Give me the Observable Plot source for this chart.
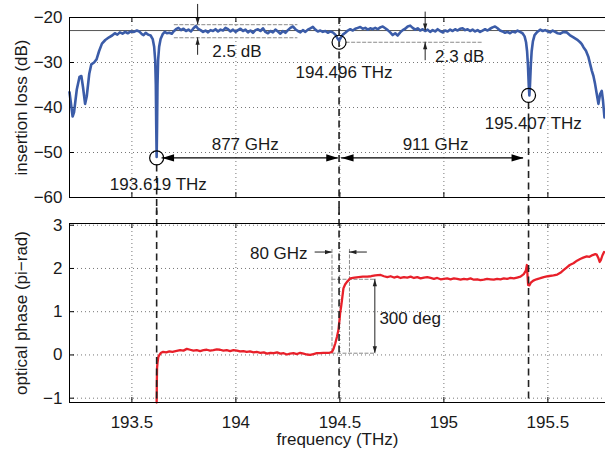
<!DOCTYPE html>
<html><head><meta charset="utf-8">
<script src="https://cdn.jsdelivr.net/npm/d3@7"></script>
<script src="https://cdn.jsdelivr.net/npm/@observablehq/plot@0.6"></script>
<style>
html,body{margin:0;padding:0;background:#fff;overflow:hidden}
svg{display:block}
</style></head><body><div id="chart"></div><script>
// ---------- data ----------
const xDomain = [193.2, 195.777];
const xTicks = [193.5, 194, 194.5, 195, 195.5];
const ilTicks = [-60, -50, -40, -30, -20];
const phTicks = [-1, 0, 1, 2, 3];

const ilFreq = [193.200,193.208,193.215,193.222,193.235,193.248,193.257,193.265,193.275,193.283,193.295,193.305,193.318,193.330,193.342,193.356,193.372,193.390,193.405,193.418,193.430,193.442,193.455,193.468,193.480,193.495,193.510,193.524,193.535,193.548,193.556,193.566,193.578,193.590,193.600,193.607,193.612,193.615,193.617,193.619,193.621,193.623,193.626,193.631,193.638,193.648,193.658,193.668,193.680,193.692,193.700,193.712,193.724,193.736,193.748,193.760,193.772,193.784,193.796,193.808,193.818,193.830,193.842,193.854,193.866,193.878,193.890,193.902,193.914,193.926,193.938,193.950,193.962,193.974,193.986,193.998,194.010,194.022,194.034,194.046,194.058,194.070,194.082,194.094,194.106,194.118,194.130,194.142,194.154,194.166,194.178,194.190,194.202,194.214,194.226,194.238,194.250,194.262,194.274,194.286,194.298,194.310,194.322,194.334,194.346,194.358,194.370,194.382,194.394,194.406,194.418,194.430,194.442,194.454,194.466,194.478,194.488,194.496,194.504,194.514,194.526,194.538,194.550,194.562,194.574,194.586,194.598,194.610,194.622,194.634,194.646,194.658,194.670,194.682,194.694,194.706,194.718,194.730,194.742,194.754,194.766,194.778,194.790,194.802,194.814,194.826,194.838,194.850,194.862,194.874,194.886,194.898,194.910,194.922,194.934,194.946,194.958,194.970,194.982,194.994,195.006,195.018,195.030,195.042,195.054,195.066,195.078,195.090,195.102,195.114,195.126,195.138,195.150,195.162,195.174,195.186,195.198,195.210,195.222,195.234,195.246,195.258,195.270,195.282,195.294,195.306,195.318,195.330,195.342,195.354,195.366,195.378,195.388,195.395,195.400,195.404,195.408,195.411,195.414,195.418,195.422,195.428,195.436,195.447,195.463,195.475,195.487,195.499,195.511,195.523,195.535,195.547,195.560,195.575,195.590,195.605,195.623,195.640,195.655,195.663,195.671,195.683,195.695,195.703,195.711,195.719,195.727,195.735,195.743,195.751,195.759,195.765,195.772];
const ilLoss = [-36.6,-39.5,-42.0,-41.0,-36.0,-33.2,-33.0,-35.5,-39.2,-37.5,-32.5,-30.4,-30.0,-29.3,-27.5,-25.8,-25.0,-24.4,-24.0,-23.5,-23.8,-23.3,-23.6,-23.2,-23.5,-23.1,-23.2,-22.9,-23.1,-23.7,-23.9,-23.4,-23.8,-24.0,-24.8,-26.5,-29.5,-35.0,-44.0,-51.0,-44.0,-35.0,-29.5,-26.5,-24.8,-23.7,-23.2,-23.5,-23.4,-23.6,-23.1,-22.6,-22.3,-22.8,-22.5,-23.0,-22.7,-23.1,-22.4,-21.9,-22.5,-22.8,-23.2,-22.9,-23.3,-22.8,-23.0,-22.6,-23.1,-22.7,-22.9,-22.3,-22.6,-23.1,-22.7,-23.2,-22.8,-22.5,-23.0,-22.7,-23.3,-22.9,-23.4,-22.8,-22.6,-23.0,-22.4,-23.2,-23.5,-23.0,-23.3,-22.7,-23.1,-23.6,-23.0,-23.4,-22.8,-22.3,-22.0,-22.6,-23.0,-23.3,-22.8,-23.2,-22.7,-22.4,-22.1,-22.7,-23.1,-22.9,-23.2,-23.0,-23.4,-23.1,-23.3,-23.8,-24.6,-25.1,-24.5,-23.8,-23.4,-22.9,-22.6,-22.9,-22.5,-22.3,-22.1,-22.5,-22.3,-22.7,-22.4,-22.6,-22.3,-22.6,-22.2,-22.0,-22.4,-22.8,-23.3,-23.9,-23.5,-24.0,-23.3,-22.8,-22.5,-22.0,-21.8,-22.3,-22.7,-22.4,-22.9,-22.6,-23.0,-22.7,-23.2,-22.8,-23.1,-22.6,-23.0,-23.3,-22.9,-23.1,-22.7,-23.0,-22.6,-22.9,-22.5,-22.4,-22.8,-22.6,-23.0,-22.7,-23.1,-22.8,-23.2,-22.9,-22.6,-22.9,-22.5,-22.2,-22.0,-22.4,-22.9,-23.1,-23.4,-23.2,-23.5,-23.1,-23.3,-22.9,-23.2,-23.5,-24.2,-25.5,-27.5,-30.5,-35.0,-37.3,-35.0,-30.5,-27.5,-25.3,-23.9,-23.3,-22.7,-23.0,-22.8,-23.1,-23.3,-22.9,-23.2,-23.5,-23.6,-23.2,-23.3,-23.9,-24.4,-24.9,-25.5,-25.9,-26.6,-27.4,-28.8,-30.3,-31.8,-33.0,-34.8,-37.0,-39.2,-37.0,-36.3,-38.5,-42.2];

const phFreq = [193.619,193.620,193.621,193.623,193.627,193.632,193.640,193.650,193.665,193.680,193.695,193.710,193.732,193.748,193.764,193.780,193.796,193.812,193.828,193.844,193.860,193.876,193.892,193.908,193.924,193.940,193.956,193.972,193.988,194.005,194.020,194.036,194.052,194.068,194.085,194.100,194.118,194.134,194.150,194.166,194.182,194.198,194.214,194.230,194.245,194.260,194.277,194.293,194.309,194.325,194.341,194.357,194.373,194.389,194.405,194.420,194.435,194.450,194.462,194.470,194.478,194.486,194.493,194.498,194.501,194.506,194.510,194.517,194.525,194.534,194.550,194.570,194.590,194.610,194.632,194.650,194.670,194.696,194.712,194.728,194.744,194.760,194.776,194.792,194.808,194.824,194.840,194.856,194.872,194.888,194.904,194.920,194.936,194.952,194.968,194.984,195.000,195.016,195.032,195.048,195.064,195.080,195.096,195.112,195.128,195.144,195.160,195.176,195.192,195.208,195.224,195.240,195.256,195.272,195.288,195.304,195.320,195.336,195.352,195.368,195.384,195.394,195.399,195.402,195.405,195.411,195.418,195.430,195.445,195.460,195.480,195.500,195.527,195.545,195.560,195.575,195.590,195.605,195.623,195.640,195.655,195.670,195.687,195.700,195.715,195.728,195.735,195.742,195.749,195.755,195.762,195.770];
const phVal = [-1.10,-0.60,-0.30,-0.19,-0.05,0.00,0.05,0.07,0.06,0.08,0.07,0.09,0.11,0.10,0.14,0.12,0.10,0.11,0.09,0.11,0.12,0.10,0.11,0.13,0.12,0.10,0.11,0.09,0.11,0.10,0.08,0.09,0.07,0.08,0.06,0.07,0.05,0.06,0.03,0.05,0.04,0.06,0.03,0.04,0.01,0.03,0.04,0.02,0.05,0.03,0.01,0.00,0.02,0.04,0.04,0.05,0.05,0.05,0.07,0.15,0.27,0.42,0.58,0.80,0.96,1.12,1.27,1.54,1.63,1.69,1.77,1.79,1.80,1.81,1.81,1.82,1.84,1.85,1.82,1.80,1.82,1.79,1.81,1.78,1.80,1.79,1.81,1.78,1.80,1.77,1.79,1.80,1.78,1.76,1.78,1.75,1.76,1.77,1.75,1.77,1.76,1.74,1.76,1.75,1.77,1.74,1.75,1.73,1.74,1.76,1.75,1.74,1.76,1.75,1.77,1.76,1.78,1.77,1.79,1.81,1.87,1.95,2.08,1.85,1.62,1.61,1.67,1.72,1.75,1.77,1.80,1.82,1.84,1.86,1.90,1.96,2.02,2.08,2.12,2.18,2.22,2.25,2.28,2.27,2.31,2.33,2.32,2.25,2.15,2.20,2.30,2.38];

// annotations (data units)
const refLevel = -22.9;
const rippleBox = {x1: 193.704, x2: 194.298, levels: [-21.6, -24.5]};
const ripple2 = {x1: 194.53, x2: 195.19, level: -25.5};
const markers = [
  {f: 193.619, loss: -51.2, top: -52.8, label: "193.619 THz", lx: 193.627, ly: -57.2},
  {f: 194.496, loss: -25.5, top: -20,   label: "194.496 THz", lx: 194.52,  ly: -32.2},
  {f: 195.407, loss: -37.3, top: -38.9, label: "195.407 THz", lx: 195.43,  ly: -43.6}
];
const spans = [
  {x1: 193.645, x2: 194.492, y: -51.2, label: "877 GHz", lx: 194.045, ly: -48.2},
  {x1: 194.508, x2: 195.383, y: -51.2, label: "911 GHz", lx: 194.96,  ly: -48.2}
];
const dbArrows = [
  {x: 193.816, y1: -17.1, y2: -21.6},
  {x: 193.816, y1: -28.4, y2: -24.5},
  {x: 194.91,  y1: -18.8, y2: -22.9},
  {x: 194.91,  y1: -29.6, y2: -25.5}
];
const dbLabels = [
  {x: 194.005, y: -27.6, text: "2.5 dB"},
  {x: 195.076, y: -28.7, text: "2.3 dB"}
];
// bottom panel annotations
const ghzLines = [194.462, 194.546];
const ghzTop = 2.44, stepLow = 0.04, stepHigh = 1.75, stepEnd = 194.675;
const ghzArrows = [
  {x1: 194.381, x2: 194.462, y: 2.38},
  {x1: 194.632, x2: 194.546, y: 2.38}
];
const degArrow = {x: 194.668, y1: 0.04, y2: 1.75};
const ghzLabel = {x: 194.206, y: 2.35, text: "80 GHz"};
const degLabel = {x: 194.69, y: 0.85, text: "300 deg"};

// ---------- helpers ----------
const ilData = ilFreq.map((f, i) => ({f, v: ilLoss[i]}));
const phData = phFreq.map((f, i) => ({f, v: phVal[i]}));
const head = {draw(ctx, size) { const r = Math.sqrt(size / Math.PI); ctx.moveTo(0, 0); ctx.lineTo(-2 * r, -0.6 * r); ctx.lineTo(-2 * r, 0.6 * r); ctx.closePath(); }};
const fmt = d => d < 0 ? "\u2212" + Math.abs(d) : String(d);
const font = {fontFamily: "'Liberation Sans', Arial, Helvetica, sans-serif", fontSize: "17px", color: "#1a1a1a", background: "white", overflow: "visible"};
const gridStyle = {stroke: "#777", strokeOpacity: 1, strokeDasharray: "1,3", strokeWidth: 1};
const dashStyle = {stroke: "#222", strokeWidth: 1.6, strokeDasharray: "7,4.5"};
const grayDash = {stroke: "#8a8a8a", strokeWidth: 1, strokeDasharray: "4,1.5"};
const blue = "#3b5ca8", red = "#e8202a";

// ---------- top panel ----------
const topH = 211, topMT = 17, topMB = 14;
const topInner = topH - topMT - topMB;
const topPlot = Plot.plot({
  width: 605, height: topH, marginLeft: 69, marginRight: 0, marginTop: topMT, marginBottom: topMB,
  style: font,
  x: {domain: xDomain, axis: null},
  y: {domain: [-60, -20], ticks: ilTicks, tickSize: 0, tickPadding: 7, tickFormat: fmt, label: null},
  marks: [
    Plot.gridX(xTicks, gridStyle),
    Plot.gridY(ilTicks, gridStyle),
    Plot.tickX(xTicks, {x: d => d, insetTop: topInner - 5, stroke: "black"}),
    Plot.tickX(xTicks, {x: d => d, insetBottom: topInner - 5, stroke: "black"}),
    Plot.tickY(ilTicks, {y: d => d, insetRight: 536 - 5, stroke: "black"}),
    Plot.ruleY([refLevel], {stroke: "#555", strokeWidth: 1}),
    Plot.ruleY(rippleBox.levels, {y: d => d, x1: rippleBox.x1, x2: rippleBox.x2, ...grayDash}),
    Plot.ruleY([ripple2], {y: "level", x1: "x1", x2: "x2", ...grayDash}),
    Plot.ruleX(markers, {x: "f", y1: "top", y2: -64, ...dashStyle}),
    Plot.line(ilData, {x: "f", y: "v", stroke: blue, strokeWidth: 2.6, strokeLinejoin: "round"}),
    Plot.dot(markers, {x: "f", y: "loss", r: 7, stroke: "black", strokeWidth: 1.2, fill: "none"}),
    Plot.text(markers, {x: "lx", y: "ly", text: "label", fill: "#1a1a1a"}),
    Plot.ruleY(spans, {y: "y", x1: "x1", x2: "x2", stroke: "black", strokeWidth: 1.3}),
    Plot.dot(spans, {x: "x1", y: "y", symbol: head, r: 6, rotate: 180, fill: "black", stroke: "none"}),
    Plot.dot(spans, {x: "x2", y: "y", symbol: head, r: 6, rotate: 0, fill: "black", stroke: "none"}),
    Plot.text(spans, {x: "lx", y: "ly", text: "label", fill: "#1a1a1a"}),
    Plot.ruleX(dbArrows, {x: "x", y1: "y1", y2: "y2", stroke: "#222", strokeWidth: 1}),
    Plot.dot(dbArrows, {x: "x", y: "y2", symbol: head, r: 3.5, rotate: d => d.y2 < d.y1 ? 90 : -90, fill: "#222", stroke: "none"}),
    Plot.text(dbLabels, {x: "x", y: "y", text: "text", fill: "#1a1a1a"}),
    Plot.text(["insertion loss (dB)"], {frameAnchor: "left", textAnchor: "middle", lineAnchor: "middle", dx: -48, rotate: -90, text: d => d, fill: "#1a1a1a"}),
    Plot.frame({stroke: "black", strokeWidth: 1})
  ]
});

// ---------- bottom panel ----------
const botH = 238, botMT = 12, botMB = 47;
const botInner = botH - botMT - botMB;
const botPlot = Plot.plot({
  width: 605, height: botH, marginLeft: 69, marginRight: 0, marginTop: botMT, marginBottom: botMB,
  style: font,
  x: {domain: xDomain, ticks: xTicks, tickSize: 0, tickPadding: 13, tickFormat: d => String(d), label: null},
  y: {domain: [-1.1, 3.04], ticks: phTicks, tickSize: 0, tickPadding: 7, tickFormat: fmt, label: null},
  marks: [
    Plot.gridX(xTicks, gridStyle),
    Plot.gridY(phTicks, gridStyle),
    Plot.tickX(xTicks, {x: d => d, insetTop: botInner - 5, stroke: "black"}),
    Plot.tickX(xTicks, {x: d => d, insetBottom: botInner - 5, stroke: "black"}),
    Plot.tickY(phTicks, {y: d => d, insetRight: 536 - 5, stroke: "black"}),
    Plot.ruleX(ghzLines, {x: d => d, y1: ghzTop, y2: stepLow, ...grayDash}),
    Plot.ruleY([stepLow, stepHigh], {y: d => d, x1: ghzLines[0], x2: stepEnd, ...grayDash}),
    Plot.line(phData, {x: "f", y: "v", stroke: red, strokeWidth: 2.3, strokeLinejoin: "round"}),
    Plot.ruleX(markers, {x: "f", y1: 3.4, y2: -1.1, ...dashStyle}),
    Plot.ruleY(ghzArrows, {y: "y", x1: "x1", x2: "x2", stroke: "#222", strokeWidth: 1}),
    Plot.dot(ghzArrows, {x: "x2", y: "y", symbol: head, r: 3.5, rotate: d => d.x2 > d.x1 ? 0 : 180, fill: "#222", stroke: "none"}),
    Plot.ruleX([degArrow], {x: "x", y1: "y1", y2: "y2", stroke: "#222", strokeWidth: 1}),
    Plot.dot([degArrow], {x: "x", y: "y1", symbol: head, r: 3.5, rotate: 90, fill: "#222", stroke: "none"}),
    Plot.dot([degArrow], {x: "x", y: "y2", symbol: head, r: 3.5, rotate: -90, fill: "#222", stroke: "none"}),
    Plot.text([ghzLabel], {x: "x", y: "y", text: "text", textAnchor: "middle", fill: "#1a1a1a"}),
    Plot.text([degLabel], {x: "x", y: "y", text: "text", textAnchor: "start", fill: "#1a1a1a"}),
    Plot.text(["optical phase (pi\u2212rad)"], {frameAnchor: "left", textAnchor: "middle", lineAnchor: "middle", dx: -48, rotate: -90, text: d => d, fill: "#1a1a1a"}),
    Plot.text(["frequency (THz)"], {frameAnchor: "bottom", lineAnchor: "middle", dy: 37, text: d => d, fill: "#1a1a1a"}),
    Plot.frame({stroke: "black", strokeWidth: 1})
  ]
});

const root = document.getElementById("chart");
root.append(topPlot, botPlot);
</script></body></html>
